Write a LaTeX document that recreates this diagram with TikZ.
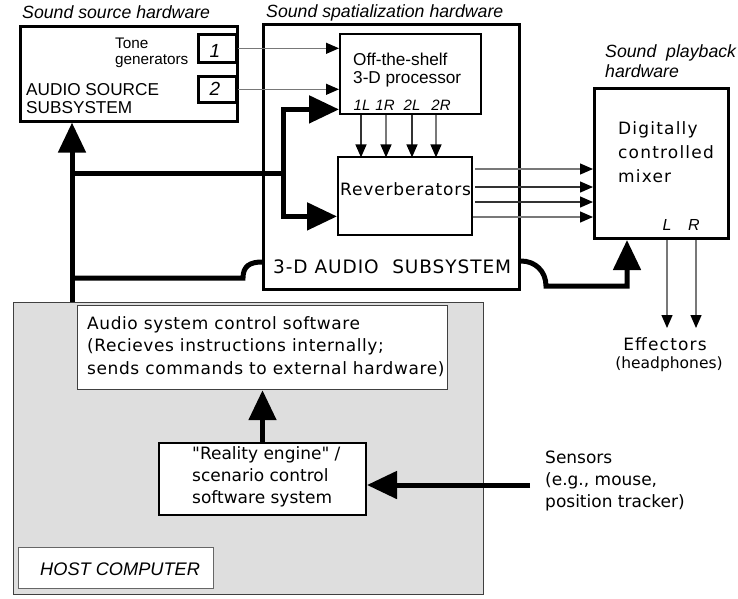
\documentclass[tikz,border=0pt]{standalone}
\usepackage{fontspec}
\setmainfont{Liberation Sans}
\newfontfamily\dvm[LetterSpace=5]{DejaVu Sans}
\newfontfamily\dvc[LetterSpace=3.5]{DejaVu Sans}
\newfontfamily\dvw[LetterSpace=7]{DejaVu Sans}
\newfontfamily\dvs{DejaVu Sans}
\usetikzlibrary{arrows.meta,calc}
\definecolor{hostgray}{RGB}{222,222,222}
\definecolor{linegray}{RGB}{120,120,120}
\begin{document}
\begin{tikzpicture}[x=1pt,y=-1pt,
  box/.style={draw, line width=2.6pt, inner sep=0pt, anchor=north west, fill=white},
  txt/.style={inner sep=0pt, anchor=base west},
  ttl/.style={txt, font=\fontsize{17.7}{20}\selectfont\itshape},
  ar/.style={txt, font=\fontsize{17.2}{20}\selectfont},
  arsm/.style={txt, font=\fontsize{15.3}{18}\selectfont},
  ari/.style={inner sep=0pt, anchor=base, font=\fontsize{15}{18}\selectfont\itshape},
  dv/.style={txt, font=\dvm\fontsize{17}{20}\selectfont},
  dvc/.style={txt, font=\dvc\fontsize{17}{20}\selectfont},
  dvwide/.style={txt, font=\dvw\fontsize{17}{20}\selectfont},
  thickline/.style={line width=5pt},
  bigarrow/.style={line width=5pt, -{Triangle[length=30pt,width=27pt]}},
  thinarrow/.style={line width=1.3pt, draw=linegray, -{Triangle[length=13pt,width=11pt,color=black]}},
  darkarrow/.style={thinarrow, draw=black!80}
]
\useasboundingbox (0,0) rectangle (738,598);

% ---------- boxes ----------
\node[draw=black!75, line width=1pt, fill=hostgray, inner sep=0pt, anchor=north west,
      minimum width=470pt, minimum height=292pt] (host) at (13,302) {};
\node[draw=black!75, line width=1.2pt, fill=white, inner sep=0pt, anchor=north west,
      minimum width=370pt, minimum height=84pt] (ctrl) at (77,305) {};
\node[draw, line width=2pt, fill=white, inner sep=0pt, anchor=north west,
      minimum width=207pt, minimum height=72pt] (real) at (158,442) {};
\node[draw=black!60, line width=1pt, fill=white, inner sep=0pt, anchor=north west,
      minimum width=195pt, minimum height=41pt] (hostlbl) at (18,547) {};

\node[box, minimum width=217pt, minimum height=95pt] (src) at (19,25) {};
\node[box, minimum width=38pt, minimum height=28pt] (b1) at (197,33) {};
\node[box, minimum width=38pt, minimum height=26pt] (b2) at (197,75) {};
\node[box, line width=3pt, minimum width=256pt, minimum height=265pt] (spat) at (262,23) {};
\node[box, line width=2.4pt, minimum width=141pt, minimum height=80pt] (proc) at (339,33) {};
\node[box, line width=2.4pt, minimum width=134pt, minimum height=78pt] (rev) at (337,156) {};
\node[box, line width=3pt, minimum width=134pt, minimum height=150pt] (mix) at (593,87) {};

% ---------- thick connectors ----------
\coordinate (busB) at (72,302);
\coordinate (j1) at (72,173);
\coordinate (j2) at (72,278);
\coordinate (sp) at (283,173);
\coordinate (sens) at (530,485);

\draw[bigarrow] (busB) -- (busB |- src.south);
\draw[thickline] (j1) -- (sp);
\draw[bigarrow] (sp) |- ($(proc.south west)+(0,-6)$);
\draw[bigarrow] (sp) |- ($(rev.south west)+(0,-20)$);
\draw[thickline] (j2) -- ++(171,0) .. controls +(0,-12) and +(-12,0) .. ($(spat.south west)+(0,-29)$);
\draw[bigarrow] ($(spat.south east)+(0,-30)$) .. controls +(14,0) and +(0,-15) .. ($(spat.south east)+(25,-5)$)
   -| ($(mix.south west)+(34,0)$);
\draw[bigarrow] (real.north) -- (real.north |- ctrl.south);
\draw[bigarrow] (sens) -- (sens -| real.east);

% ---------- thin connectors ----------
\draw[thinarrow] (b1.east) -- (b1.east -| proc.west);
\draw[thinarrow] (b2.east) -- (b2.east -| proc.west);
\draw[darkarrow] ($(proc.south west)+(22,0)$) -- ++(0,42);
\draw[thinarrow] ($(proc.south west)+(47,0)$) -- ++(0,42);
\draw[darkarrow] ($(proc.south west)+(73,0)$) -- ++(0,42);
\draw[thinarrow] ($(proc.south west)+(97,0)$) -- ++(0,42);
\path ($(rev.north east)+(2,13)$) coordinate (o1);
\path ($(rev.north east)+(2,31)$) coordinate (o2);
\path ($(rev.north east)+(2,46)$) coordinate (o3);
\path ($(rev.north east)+(0,61)$) coordinate (o4);
\draw[thinarrow] (o1) -- (o1 -| mix.west);
\draw[darkarrow] (o2) -- (o2 -| mix.west);
\draw[darkarrow] (o3) -- (o3 -| mix.west);
\draw[thinarrow] (o4) -- (o4 -| mix.west);
\draw[thinarrow] ($(mix.south west)+(74,0)$) -- ++(0,88);
\draw[thinarrow] ($(mix.south west)+(103,0)$) -- ++(0,88);

% ---------- texts ----------
\node[ttl] (tsrc) at (22,18) {Sound source hardware};
\node[ttl] (tspat) at (266,17) {Sound spatialization hardware};
\node[ttl] (tplay1) at (605,57) {Sound\ \ playback};
\node[ttl] (tplay2) at (605,77) {hardware};

\node[arsm] (ttone1) at (115,48) {Tone};
\node[arsm] (ttone2) at (115,64) {generators};
\node[inner sep=0pt, anchor=base, font=\fontsize{19}{20}\selectfont\itshape] (n1) at (215,57) {1};
\node[inner sep=0pt, anchor=base, font=\fontsize{19}{20}\selectfont\itshape] (n2) at (215,95) {2};
\node[ar] (tas1) at (26,95) {AUDIO SOURCE};
\node[ar] (tas2) at (26,113) {SUBSYSTEM};

\node[ar] (tp1) at (353,65) {Off-the-shelf};
\node[ar] (tp2) at (353,83) {3-D processor};
\node[ari] (l1) at (362,110) {1L};
\node[ari] (l2) at (385,110) {1R};
\node[ari] (l3) at (412,110) {2L};
\node[ari] (l4) at (441,110) {2R};

\node[dv] (trev) at (340,195) {Reverberators};
\node[txt, font=\dvm\fontsize{18.5}{20}\selectfont] (t3d) at (273,273) {3-D AUDIO\ \ SUBSYSTEM};

\node[dvwide] (tm1) at (618,134) {Digitally};
\node[dvwide] (tm2) at (618,158) {controlled};
\node[dvwide] (tm3) at (618,182) {mixer};
\node[ari, font=\fontsize{16}{18}\selectfont\itshape] (tL) at (667,230) {L};
\node[ari, font=\fontsize{16}{18}\selectfont\itshape] (tR) at (694,230) {R};
\node[inner sep=0pt, anchor=base, font=\dvw\fontsize{17}{20}\selectfont] (te1) at (665,350) {Effectors};
\node[inner sep=0pt, anchor=base, font=\dvs\fontsize{15.5}{20}\selectfont] (te2) at (669,368) {(headphones)};

\node[dvc] (tc1) at (87,329) {Audio system control software};
\node[dvc] (tc2) at (87,351) {(Recieves instructions internally;};
\node[dvc] (tc3) at (87,374) {sends commands to external hardware)};

\node[txt, font=\dvs\fontsize{17}{20}\selectfont] (tr1) at (192,459) {"Reality engine" /};
\node[txt, font=\dvs\fontsize{17}{20}\selectfont] (tr2) at (192,481) {scenario control};
\node[txt, font=\dvs\fontsize{17}{20}\selectfont] (tr3) at (192,503) {software system};

\node[txt, font=\dvs\fontsize{17}{20}\selectfont] (ts1) at (545,463) {Sensors};
\node[txt, font=\dvs\fontsize{17}{20}\selectfont] (ts2) at (545,485) {(e.g., mouse,};
\node[txt, font=\dvs\fontsize{17}{20}\selectfont] (ts3) at (545,507) {position tracker)};

\node[txt, font=\fontsize{18.2}{20}\selectfont\itshape] (thost) at (40,575) {HOST COMPUTER};
\end{tikzpicture}
\end{document}
